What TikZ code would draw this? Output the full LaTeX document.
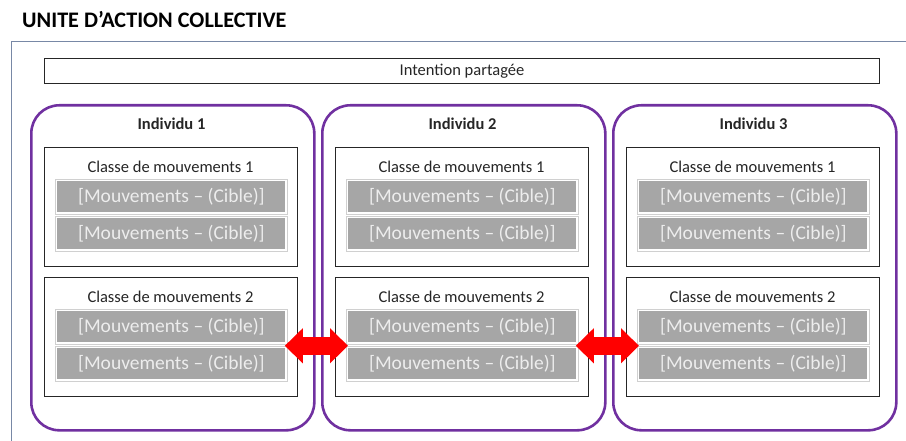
\documentclass[tikz,border=0pt]{standalone}
\usepackage{fontspec}
\setmainfont{Carlito}
\usetikzlibrary{arrows.meta,calc}
\definecolor{purp}{HTML}{7030A0}
\definecolor{frameblue}{HTML}{7888A6}
\definecolor{movgray}{HTML}{A6A6A6}
\definecolor{movedge}{HTML}{D0D0D0}
\definecolor{movtext}{HTML}{EDEDED}
\definecolor{headtext}{HTML}{262626}
\begin{document}
\begin{tikzpicture}[x=1pt,y=-1pt,
  indiv/.style={draw=purp, line width=2.6pt, rounded corners=28pt, minimum width=283pt, minimum height=325pt, anchor=north west, inner sep=0pt},
  classbox/.style={draw=black!85, line width=1pt, minimum width=253pt, minimum height=119pt, anchor=north west, inner sep=0pt, fill=white},
  movbox/.style={draw=movedge, line width=0.8pt, fill=white, minimum width=232pt, minimum height=35pt, anchor=north west, inner sep=0pt, text=movtext, font=\fontsize{19.5}{19.5}\selectfont,
    path picture={\fill[movgray] ([shift={(2pt,-2pt)}]path picture bounding box.north west) rectangle ([shift={(-2pt,2pt)}]path picture bounding box.south east);}},
  headfont/.style={font=\fontsize{16.5}{16.5}\selectfont, text=headtext, inner sep=0pt},
  labfont/.style={font=\bfseries\fontsize{16.5}{16.5}\selectfont, text=headtext, inner sep=0pt},
  dblarrow/.style={red, line width=18pt, {Triangle[length=18pt,width=34pt]}-{Triangle[length=18pt,width=34pt]}}
]
\useasboundingbox (0,0) rectangle (906,441);
\node[anchor=west, font=\bfseries\fontsize{22.2}{22.2}\selectfont, text=black, inner sep=0pt] (title) at (22,20) {UNITE D’ACTION COLLECTIVE};
\coordinate (ftl) at (11,42);
\coordinate (ftr) at (906,42);
\coordinate (fbl) at (11,441);
\draw[frameblue, line width=1pt] (ftr) -- (ftl) -- (fbl);
\node[draw=black!85, line width=1pt, minimum width=835pt, minimum height=25pt, anchor=north west, inner sep=0pt] (intentbox) at (44,58) {};
\node[headfont] (intent) at (intentbox.center) {Intention partagée};
\foreach \i/\x in {1/30,2/321,3/612}{
  \node[indiv] (ind\i) at (\x,104) {};
  \node[labfont] (lab\i) at (\x+141.5,124) {Individu \i};
  \foreach \c/\y in {1/147,2/277}{
    \node[classbox] (c\i\c) at (\x+14,\y) {};
    \node[headfont] (h\i\c) at (\x+140.5,\y+20) {Classe de mouvements \c};
    \node[movbox] (m\i\c-a) at (\x+25,\y+32) {[Mouvements – (Cible)]};
    \node[movbox] (m\i\c-b) at (\x+25,\y+69) {[Mouvements – (Cible)]};
  }
}
\draw[dblarrow] ([xshift=-3pt,yshift=-1pt]m12-a.south east) -- ([xshift=2pt,yshift=-1pt]m22-a.south west);
\draw[dblarrow] ([xshift=-3pt,yshift=-1pt]m22-a.south east) -- ([xshift=2pt,yshift=-1pt]m32-a.south west);
\end{tikzpicture}
\end{document}
